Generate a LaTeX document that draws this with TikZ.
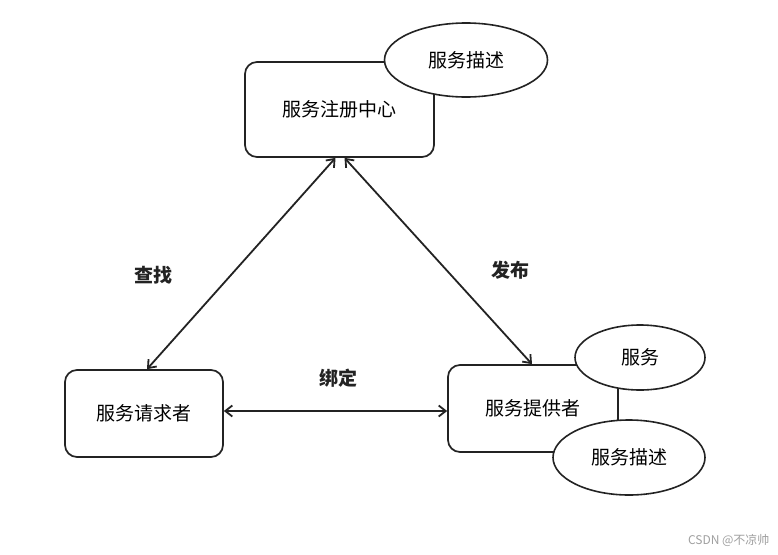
\documentclass[tikz,border=0pt]{standalone}
\usepackage{fontspec}
\setmainfont{Noto Sans CJK SC}
\usetikzlibrary{shapes.geometric,arrows.meta,calc}
\definecolor{ink}{RGB}{35,35,35}
\begin{document}
\begin{tikzpicture}[x=1pt,y=-1pt,
  box/.style={draw=ink,line width=1.7pt,rounded corners=12pt,inner sep=0pt,font=\fontsize{19}{22}\selectfont},
  oval/.style={draw=ink,line width=1.6pt,ellipse,fill=white,inner sep=0pt,font=\fontsize{19}{22}\selectfont},
  conn/.style={draw=ink,line width=1.8pt,{Straight Barb[length=7pt,width=11pt]}-{Straight Barb[length=7pt,width=11pt]}},
  lbl/.style={font=\fontsize{19}{22}\selectfont\bfseries,text=ink}]
\useasboundingbox (0,0) rectangle (778,554);
\fill[white] (0,0) rectangle (778,554);
% boxes
\node[box,minimum width=189pt,minimum height=95pt] (reg) at (339.5,109.5) {服务注册中心};
\node[box,minimum width=158pt,minimum height=87pt] (req) at (144,413.5) {服务请求者};
\node[box,minimum width=170pt,minimum height=87pt] (prov) at (533,408.5) {服务提供者};
% ellipses
\node[oval,minimum width=163pt,minimum height=74pt] (desc1) at (466,60) {服务描述};
\node[oval,minimum width=130pt,minimum height=65pt] (svc) at (640,357.5) {服务};
\node[oval,minimum width=152pt,minimum height=75pt] (desc2) at (629,457.5) {服务描述};
% connectors
\draw[conn] ([xshift=-4pt]reg.south) -- ([xshift=3pt]req.north);
\draw[conn] ([xshift=5pt]reg.south) -- ([xshift=-1pt]prov.north);
\draw[conn] ($(req.east)+(0,-2.5)$) -- ($(req.east -| prov.west)+(0,-2.5)$);
% labels
\node[lbl] (find) at (153,275) {查找};
\node[lbl] (pub) at (510,270) {发布};
\node[lbl] (bind) at (338,378) {绑定};
% watermark
\node[text={rgb,255:red,160;green,160;blue,160},font=\fontsize{12}{14}\selectfont,anchor=east] (wm) at (773,540) {CSDN @不凉帅};
\end{tikzpicture}
\end{document}
